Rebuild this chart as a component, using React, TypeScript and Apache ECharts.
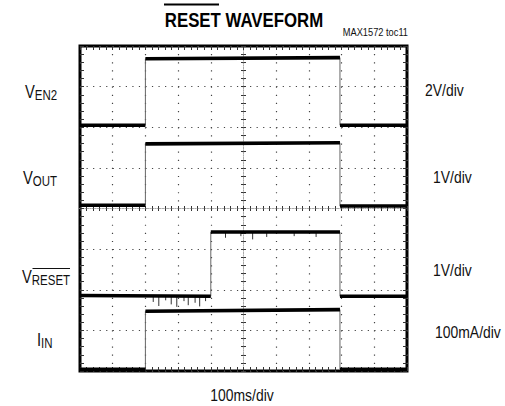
import React, { useEffect, useRef } from 'react';
import * as echarts from 'echarts';

// ---- screen divisions (oscilloscope graticule) ----
const X_DIV_MIN = -5;
const X_DIV_MAX = 5;
const Y_DIV_MIN = -4;
const Y_DIV_MAX = 4;
const MS_PER_DIV = 100;
const T_CENTER_MS = 500;

// ---- traces: [time ms, value in channel unit] ----
const VEN2_POINTS: number[][] = [[0, 0.1], [200, 0.1], [200, 3.37], [795, 3.43], [795, 0.1], [1000, 0.1]];
const VOUT_POINTS: number[][] = [[0, 0.08], [200, 0.08], [200, 1.59], [795, 1.62], [795, 0.06], [1000, 0.06]];
const VRESET_POINTS: number[][] = [[0, 0.06], [400, 0.04], [400, 1.62], [795, 1.62], [795, 0.04], [1000, 0.04]];
const IIN_POINTS: number[][] = [[0, 4], [200, 4], [200, 147], [795, 151], [795, 4], [1000, 4]];

// channel scales (unit/div) and ground positions (div from centre)
const VEN2_SCALE = 2;
const VOUT_SCALE = 1;
const VRESET_SCALE = 1;
const IIN_SCALE = 100;
const VEN2_ZERO = 2.0;
const VOUT_ZERO = 0.0;
const VRESET_ZERO = -2.2;
const IIN_ZERO = -4.0;

// glitches on the RESET trace: time ms, base level V, excursion V
const RESET_GLITCH_MS = [224, 241, 262, 279, 296, 318, 331, 352, 366, 384, 445, 492, 528, 571, 655, 722];
const RESET_GLITCH_BASE = [0.04, 0.04, 0.04, 0.04, 0.04, 0.04, 0.04, 0.04, 0.04, 0.04, 1.62, 1.62, 1.62, 1.62, 1.62, 1.62];
const RESET_GLITCH_DV = [-0.14, -0.24, -0.1, -0.2, -0.26, -0.12, -0.22, -0.16, -0.25, -0.12, -0.14, -0.1, -0.18, -0.12, -0.1, -0.12];

const FONT = '"Liberation Sans", Arial, sans-serif';
const NARROW = 0.82;
const INK = '#111';

const toDiv = (pts: number[][], zero: number, scale: number) =>
  pts.map(([t, v]) => [(t - T_CENTER_MS) / MS_PER_DIV, zero + v / scale]);

const withGaps = (pts: number[][]) => {
  const out: any[] = [];
  pts.forEach((p, i) => {
    if (i > 0 && pts[i - 1][0] === p[0]) out.push([p[0], null]);
    out.push(p);
  });
  return out;
};

export default function App() {
  const ref = useRef<HTMLDivElement>(null);
  useEffect(() => {
    document.body.style.margin = '0';
    if (!ref.current) return;
    const chart = echarts.init(ref.current, null, { renderer: 'svg' });

    const traces = [
      toDiv(VEN2_POINTS, VEN2_ZERO, VEN2_SCALE),
      toDiv(VOUT_POINTS, VOUT_ZERO, VOUT_SCALE),
      toDiv(VRESET_POINTS, VRESET_ZERO, VRESET_SCALE),
      toDiv(IIN_POINTS, IIN_ZERO, IIN_SCALE),
    ];

    const glitchData: any[] = [];
    RESET_GLITCH_MS.forEach((t, i) => {
      const x = (t - T_CENTER_MS) / MS_PER_DIV;
      glitchData.push([x, VRESET_ZERO + RESET_GLITCH_BASE[i] / VRESET_SCALE]);
      glitchData.push([x, VRESET_ZERO + (RESET_GLITCH_BASE[i] + RESET_GLITCH_DV[i]) / VRESET_SCALE]);
      glitchData.push([x, null]);
    });

    const series: any[] = [];
    traces.forEach((d) => {
      series.push({
        type: 'line', data: d, showSymbol: false, symbol: 'none', silent: true,
        lineStyle: { color: '#666', width: 1 }, z: 3,
      });
    });
    series.push({
      type: 'line', data: glitchData, showSymbol: false, symbol: 'none', silent: true, connectNulls: false,
      lineStyle: { color: '#333', width: 1 }, z: 4,
    });
    traces.forEach((d) => {
      series.push({
        type: 'line', data: withGaps(d), showSymbol: false, symbol: 'none', silent: true, connectNulls: false,
        lineStyle: { color: '#000', width: 3.6 }, z: 5,
      });
    });

    const tickStyle = { color: '#333', width: 1 };
    const frameX = (position: string, split: boolean) => ({
      type: 'value', min: X_DIV_MIN, max: X_DIV_MAX, interval: 1, position,
      axisLine: { show: false, onZero: false },
      axisTick: { show: true, inside: true, length: 4, lineStyle: tickStyle },
      minorTick: { show: true, splitNumber: 5, length: 4, lineStyle: tickStyle },
      axisLabel: { show: false },
      splitLine: { show: split, lineStyle: { color: '#444', width: 1.2, type: [1.2, 6.92] } },
    });
    const centerX = (inside: boolean) => ({
      type: 'value', min: X_DIV_MIN, max: X_DIV_MAX, interval: 1, position: 'bottom',
      axisLine: { show: true, onZero: true, onZeroAxisIndex: 0, lineStyle: { color: '#aaa', width: 1, type: [1, 1.5] } },
      axisTick: { show: true, inside, length: 2.5, lineStyle: tickStyle },
      minorTick: { show: true, splitNumber: 5, length: 2.5, lineStyle: tickStyle },
      axisLabel: { show: false },
      splitLine: { show: false },
    });
    const frameY = (position: string, split: boolean) => ({
      type: 'value', min: Y_DIV_MIN, max: Y_DIV_MAX, interval: 1, position,
      axisLine: { show: false, onZero: false },
      axisTick: { show: true, inside: true, length: 4, lineStyle: tickStyle },
      minorTick: { show: true, splitNumber: 5, length: 4, lineStyle: tickStyle },
      axisLabel: { show: false },
      splitLine: { show: split, lineStyle: { color: '#444', width: 1.2, type: [1.2, 5.34] } },
    });
    const centerY = (inside: boolean) => ({
      type: 'value', min: Y_DIV_MIN, max: Y_DIV_MAX, interval: 1, position: 'left',
      axisLine: { show: true, onZero: true, onZeroAxisIndex: 0, lineStyle: { color: '#aaa', width: 1, type: [1, 1.5] } },
      axisTick: { show: true, inside, length: 2.5, lineStyle: tickStyle },
      minorTick: { show: true, splitNumber: 5, length: 2.5, lineStyle: tickStyle },
      axisLabel: { show: false },
      splitLine: { show: false },
    });

    const txt = (x: number, y: number, text: string, size: number, extra: any = {}) => ({
      type: 'text', x, y, scaleX: NARROW, silent: true,
      style: { text, fontFamily: FONT, fontSize: size, fill: INK, align: 'left', verticalAlign: 'middle', ...extra },
    });
    const label = (x: number, y: number, main: string, sub: string) => ({
      type: 'text', x, y, scaleX: NARROW, silent: true,
      style: {
        text: `{m|${main}}{s|${sub}}`, align: 'left', verticalAlign: 'middle',
        rich: {
          m: { fontFamily: FONT, fontSize: 18, fill: INK, verticalAlign: 'bottom', lineHeight: 20 },
          s: { fontFamily: FONT, fontSize: 14, fill: INK, verticalAlign: 'bottom', lineHeight: 20, padding: [0, 0, -2, 0] },
        },
      },
    });

    chart.setOption({
      animation: false,
      backgroundColor: '#fff',
      grid: { left: 80, top: 46, width: 327, height: 325, show: true, borderColor: '#000', borderWidth: 3, backgroundColor: 'transparent' },
      xAxis: [frameX('bottom', true), frameX('top', false), centerX(false), centerX(true)],
      yAxis: [frameY('left', true), frameY('right', false), centerY(false), centerY(true)],
      series,
      graphic: [
        txt(244, 19.5, 'RESET WAVEFORM', 20.5, { fontWeight: 'bold', align: 'center', fill: '#000' }),
        { type: 'line', silent: true, shape: { x1: 164, y1: 4.5, x2: 219, y2: 4.5 }, style: { stroke: '#000', lineWidth: 2 } },
        txt(408, 32.5, 'MAX1572 toc11', 11.3, { align: 'right' }),
        label(25, 90, 'V', 'EN2'),
        label(23, 176, 'V', 'OUT'),
        label(22, 275, 'V', 'RESET'),
        { type: 'line', silent: true, shape: { x1: 32.5, y1: 268.5, x2: 70, y2: 268.5 }, style: { stroke: INK, lineWidth: 1 } },
        label(37, 338, 'I', 'IN'),
        txt(425, 90, '2V/div', 17),
        txt(433, 176.5, '1V/div', 17),
        txt(433, 270, '1V/div', 17),
        txt(435, 331.5, '100mA/div', 17),
        txt(242, 394.5, '100ms/div', 17, { align: 'center' }),
      ],
    });
    return () => chart.dispose();
  }, []);
  return <div ref={ref} style={{ width: 505, height: 406 }} />;
}
